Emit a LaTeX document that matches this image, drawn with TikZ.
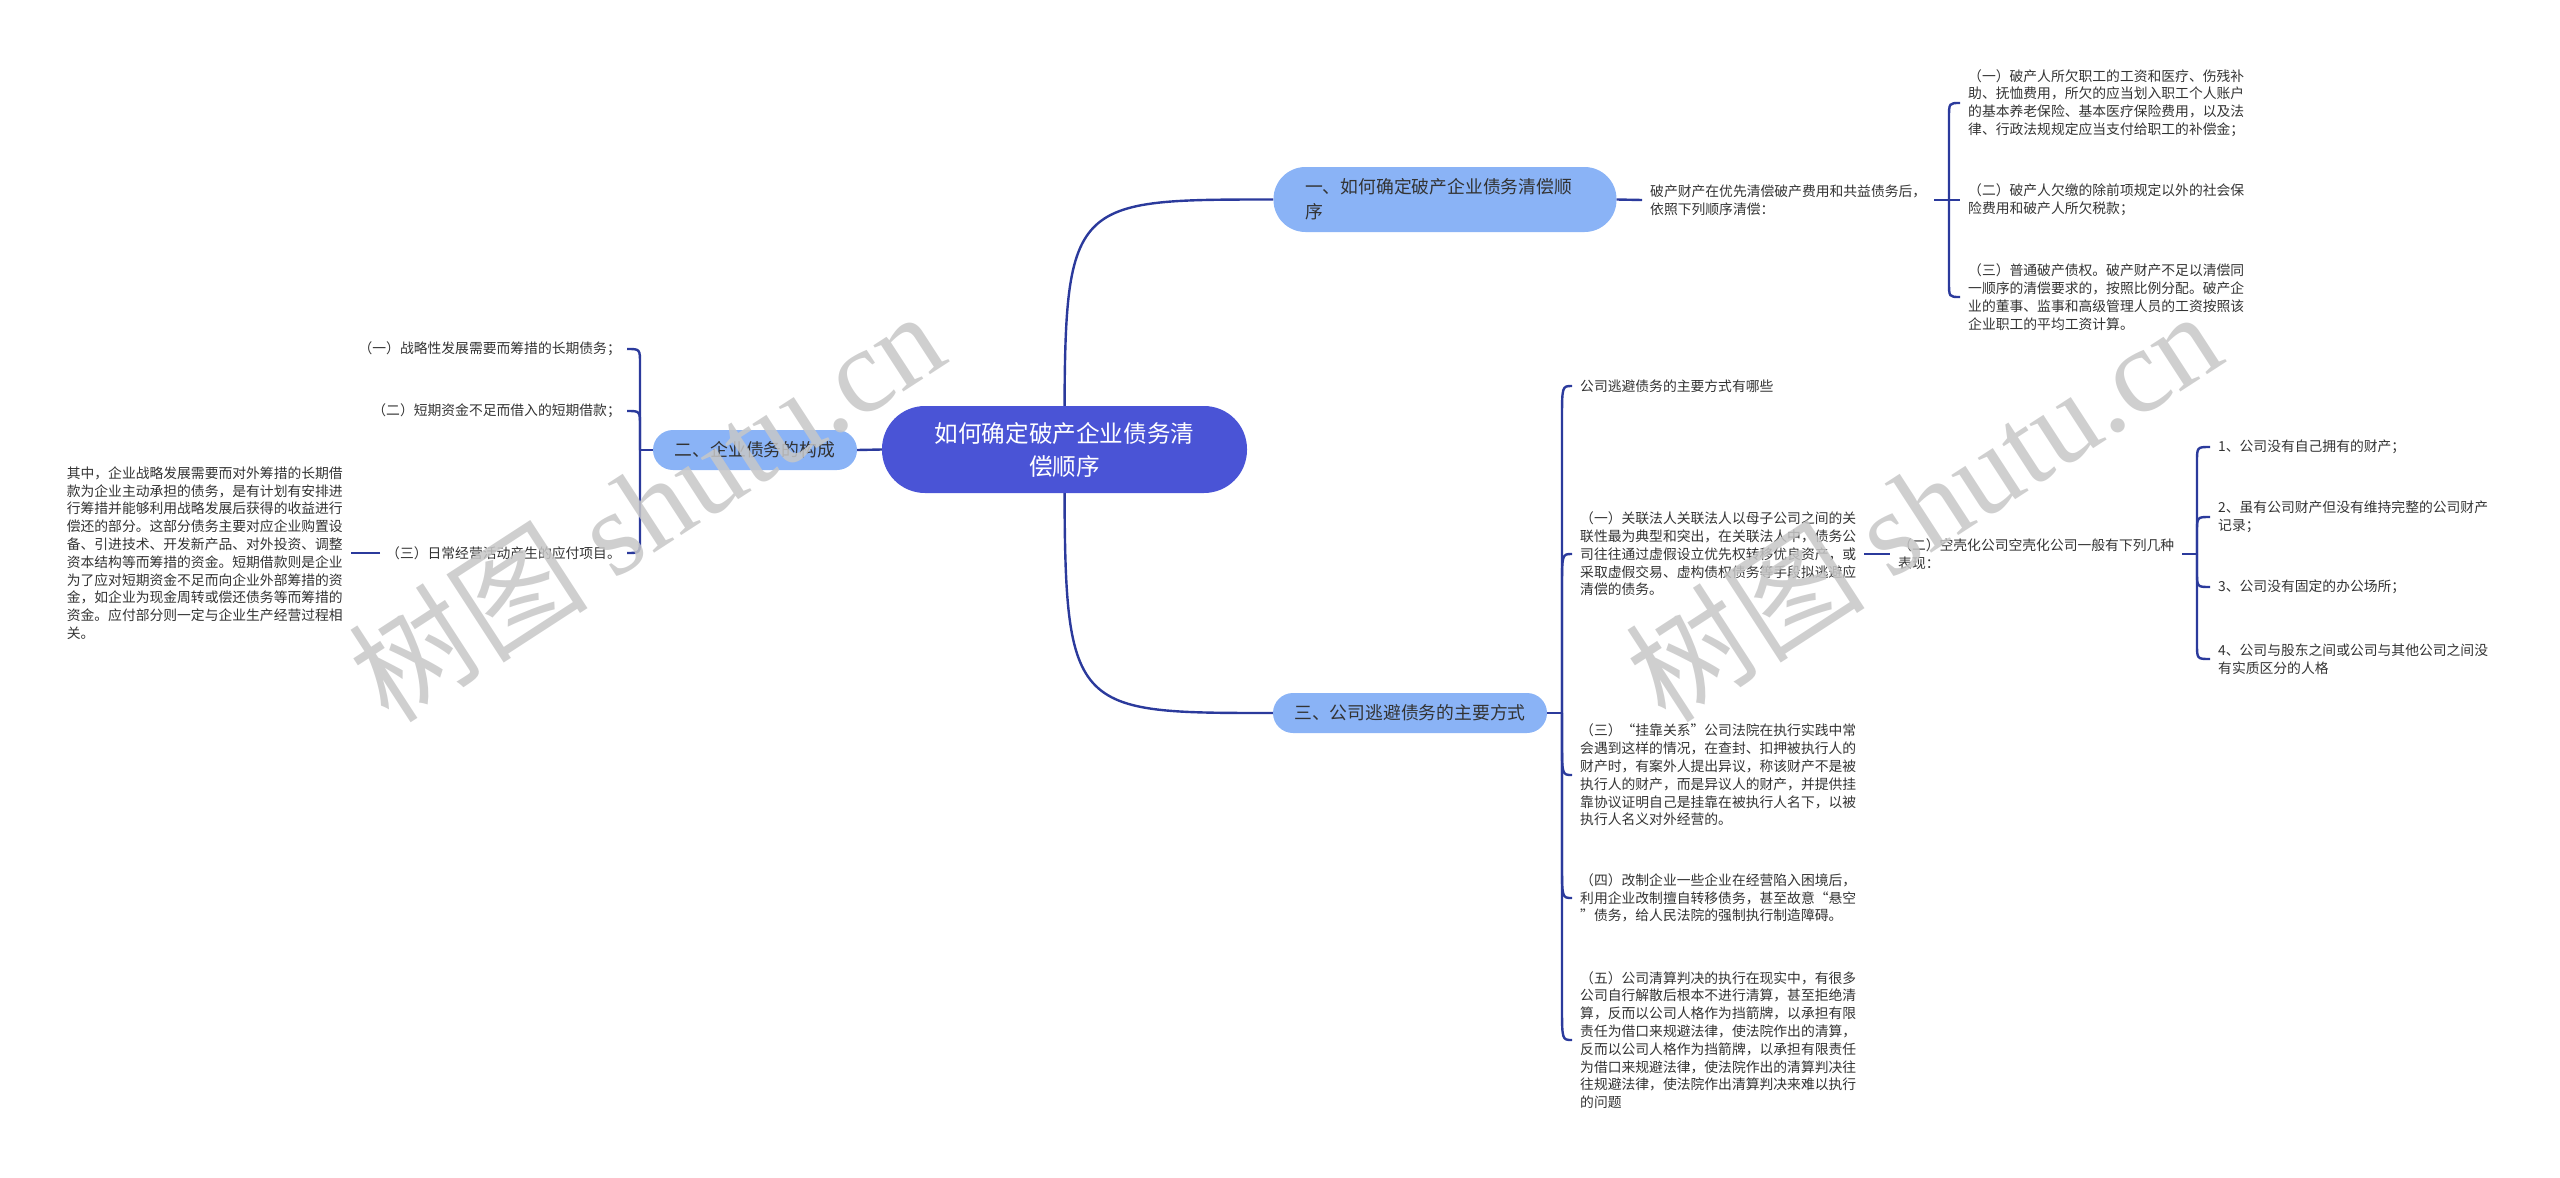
\documentclass[tikz,border=0pt]{standalone}
\usepackage{fontspec}
\setmainfont{Noto Sans CJK SC}
\newfontfamily\wmlatin{Liberation Serif}
\usetikzlibrary{backgrounds,calc}
\definecolor{lineblue}{HTML}{2B3A9C}
\definecolor{rootblue}{HTML}{4A54D6}
\definecolor{subblue}{HTML}{8AB3F6}
\definecolor{txt}{HTML}{333333}
\begin{document}
\begin{tikzpicture}[x=1pt,y=-1pt,
  conn/.style={draw=lineblue,line width=2.4pt},
  root/.style={fill=rootblue, rounded corners=43pt, minimum width=365pt, minimum height=87pt, text=white, align=center, font=\fontsize{23.6}{33}\selectfont, inner sep=0pt},
  topic/.style={fill=subblue, minimum height=40pt, rounded corners=20pt, text=txt, font=\fontsize{17.8}{25}\selectfont, inner sep=0pt},
  leaf/.style={text=txt, font=\fontsize{13.8}{17.8}\selectfont, align=left, inner xsep=8pt, inner ysep=0pt},
  wm/.style={rotate=33, text=black!22, opacity=0.85, font=\fontsize{120}{120}\selectfont, inner sep=0pt},
]
\useasboundingbox (0,0) rectangle (2560,1178);

% main nodes
\node[root] (C) at (1064.5,449.5) {如何确定破产企业债务清\\偿顺序};
\node[topic, minimum width=343pt, minimum height=65pt, rounded corners=32pt, text width=280pt, align=left] (T1) at (1445,199.5) {一、如何确定破产企业债务清偿顺\\序};
\node[topic, minimum width=204pt] (T2) at (755,450) {二、企业债务的构成};
\node[topic, minimum width=274pt] (T3) at (1410,713) {三、公司逃避债务的主要方式};

% branch one
\node[leaf, anchor=west] (A0) at (1642,200) {破产财产在优先清偿破产费用和共益债务后，\\依照下列顺序清偿：};
\coordinate (J1) at (1949,200);
\node[leaf, anchor=west] (R1) at (1960,103) {（一）破产人所欠职工的工资和医疗、伤残补\\助、抚恤费用，所欠的应当划入职工个人账户\\的基本养老保险、基本医疗保险费用，以及法\\律、行政法规规定应当支付给职工的补偿金；};
\node[leaf, anchor=west] (R2) at (1960,200) {（二）破产人欠缴的除前项规定以外的社会保\\险费用和破产人所欠税款；};
\node[leaf, anchor=west] (R3) at (1960,297) {（三）普通破产债权。破产财产不足以清偿同\\一顺序的清偿要求的，按照比例分配。破产企\\业的董事、监事和高级管理人员的工资按照该\\企业职工的平均工资计算。};

% branch two
\coordinate (J2) at (640,450);
\node[leaf, anchor=east, inner xsep=6pt] (L1) at (627,349) {（一）战略性发展需要而筹措的长期债务；};
\node[leaf, anchor=east, inner xsep=6pt] (L2) at (627,411) {（二）短期资金不足而借入的短期借款；};
\node[leaf, anchor=east, inner xsep=6pt] (L3) at (627,553) {（三）日常经营活动产生的应付项目。};
\node[leaf, anchor=east] (P2) at (351,553) {其中，企业战略发展需要而对外筹措的长期借\\款为企业主动承担的债务，是有计划有安排进\\行筹措并能够利用战略发展后获得的收益进行\\偿还的部分。这部分债务主要对应企业购置设\\备、引进技术、开发新产品、对外投资、调整\\资本结构等而筹措的资金。短期借款则是企业\\为了应对短期资金不足而向企业外部筹措的资\\金，如企业为现金周转或偿还债务等而筹措的\\资金。应付部分则一定与企业生产经营过程相\\关。};

% branch three
\coordinate (J3) at (1562,713);
\node[leaf, anchor=west] (A1) at (1572,386) {公司逃避债务的主要方式有哪些};
\node[leaf, anchor=west] (A2) at (1572,554) {（一）关联法人关联法人以母子公司之间的关\\联性最为典型和突出，在关联法人中，债务公\\司往往通过虚假设立优先权转移优良资产，或\\采取虚假交易、虚构债权债务等手段拟逃避应\\清偿的债务。};
\node[leaf, anchor=west] (A3) at (1572,775) {（三）“挂靠关系”公司法院在执行实践中常\\会遇到这样的情况，在查封、扣押被执行人的\\财产时，有案外人提出异议，称该财产不是被\\执行人的财产，而是异议人的财产，并提供挂\\靠协议证明自己是挂靠在被执行人名下，以被\\执行人名义对外经营的。};
\node[leaf, anchor=west] (A4) at (1572,898) {（四）改制企业一些企业在经营陷入困境后，\\利用企业改制擅自转移债务，甚至故意“悬空\\”债务，给人民法院的强制执行制造障碍。};
\node[leaf, anchor=west] (A5) at (1572,1040) {（五）公司清算判决的执行在现实中，有很多\\公司自行解散后根本不进行清算，甚至拒绝清\\算，反而以公司人格作为挡箭牌，以承担有限\\责任为借口来规避法律，使法院作出的清算，\\反而以公司人格作为挡箭牌，以承担有限责任\\为借口来规避法律，使法院作出的清算判决往\\往规避法律，使法院作出清算判决来难以执行\\的问题};
\node[leaf, anchor=west] (B1) at (1890,554) {（二）空壳化公司空壳化公司一般有下列几种\\表现：};
\coordinate (J4) at (2197,554);
\node[leaf, anchor=west] (C1) at (2210,447) {1、公司没有自己拥有的财产；};
\node[leaf, anchor=west] (C2) at (2210,517) {2、虽有公司财产但没有维持完整的公司财产\\记录；};
\node[leaf, anchor=west] (C3) at (2210,587) {3、公司没有固定的办公场所；};
\node[leaf, anchor=west] (C4) at (2210,659) {4、公司与股东之间或公司与其他公司之间没\\有实质区分的人格};

\begin{scope}[on background layer]
\draw[conn] (C.center) .. controls (C.center |- T1.west) and (C.center |- T1.west) .. (T1.west);
\draw[conn] (C.center) .. controls (C.center |- T3.west) and (C.center |- T3.west) .. (T3.west);
\draw[conn] (C.west) -- (T2.east);
\end{scope}

% branch one connectors
\draw[conn] (T1.east) -- (A0.west);
\draw[conn] (A0.east) -- (J1);
\draw[conn] (J1) -- ($(J1 |- R1.west)+(0,15)$) .. controls (J1 |- R1.west) .. (R1.west);
\draw[conn] (J1) -- (R2.west);
\draw[conn] (J1) -- ($(J1 |- R3.west)+(0,-15)$) .. controls (J1 |- R3.west) .. (R3.west);

% branch two connectors
\draw[conn] (T2.west) -- (J2);
\draw[conn] (J2) -- ($(J2 |- L1.east)+(0,15)$) .. controls (J2 |- L1.east) .. (L1.east);
\draw[conn] (J2) -- ($(J2 |- L2.east)+(0,15)$) .. controls (J2 |- L2.east) .. (L2.east);
\draw[conn] (J2) -- ($(J2 |- L3.east)+(0,-15)$) .. controls (J2 |- L3.east) .. (L3.east);
\draw[conn] (L3.west) -- (P2.east);

% branch three connectors
\draw[conn] (T3.east) -- (J3);
\draw[conn] (J3) -- ($(J3 |- A1.west)+(0,35)$) .. controls (J3 |- A1.west) .. (A1.west);
\draw[conn] (J3) -- ($(J3 |- A2.west)+(0,35)$) .. controls (J3 |- A2.west) .. (A2.west);
\draw[conn] (J3) -- ($(J3 |- A3.west)+(0,-35)$) .. controls (J3 |- A3.west) .. (A3.west);
\draw[conn] (J3) -- ($(J3 |- A4.west)+(0,-35)$) .. controls (J3 |- A4.west) .. (A4.west);
\draw[conn] (J3) -- ($(J3 |- A5.west)+(0,-35)$) .. controls (J3 |- A5.west) .. (A5.west);
\draw[conn] (A2.east) -- (B1.west);
\draw[conn] (B1.east) -- (J4);
\draw[conn] (J4) -- ($(J4 |- C1.west)+(0,15)$) .. controls (J4 |- C1.west) .. (C1.west);
\draw[conn] (J4) -- ($(J4 |- C2.west)+(0,15)$) .. controls (J4 |- C2.west) .. (C2.west);
\draw[conn] (J4) -- ($(J4 |- C3.west)+(0,-15)$) .. controls (J4 |- C3.west) .. (C3.west);
\draw[conn] (J4) -- ($(J4 |- C4.west)+(0,-15)$) .. controls (J4 |- C4.west) .. (C4.west);

% watermarks
\node[wm] (W1) at (646,505) {树图 {\wmlatin shutu.cn}};
\node[wm] (W2) at (1923,505) {树图 {\wmlatin shutu.cn}};
\end{tikzpicture}
\end{document}
